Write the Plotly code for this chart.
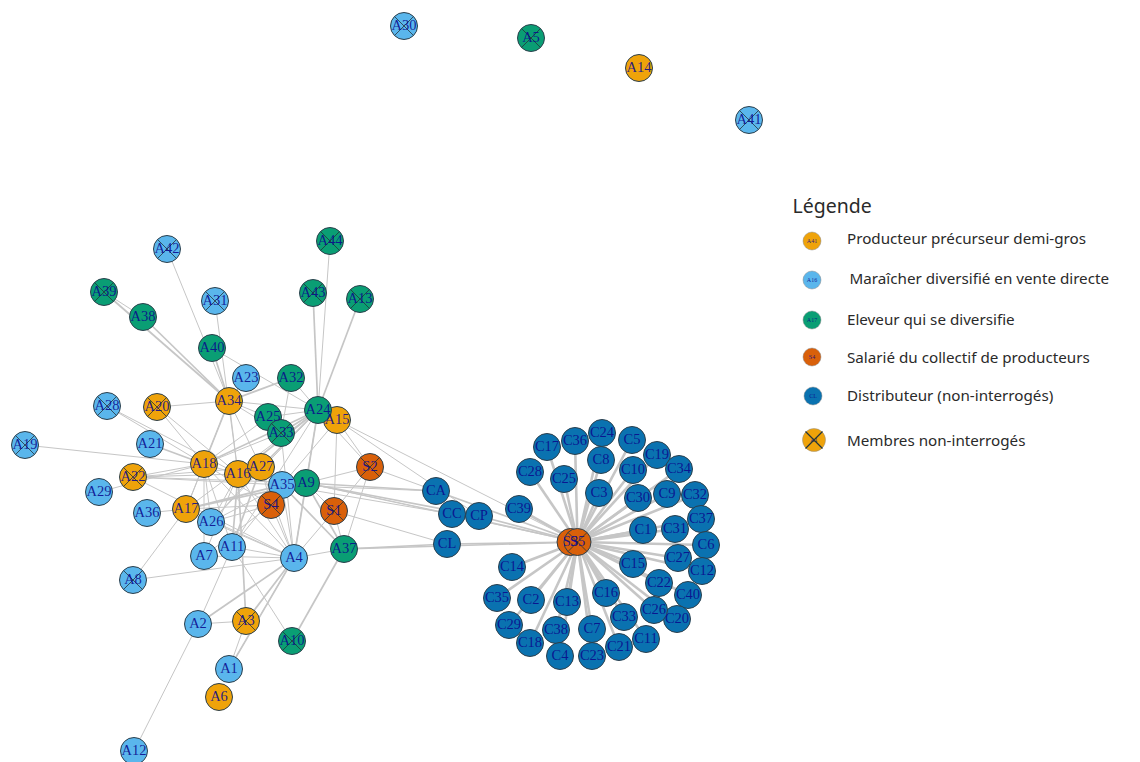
import plotly.graph_objects as go

# ---- Nodes (pixel-like layout coordinates), in drawing order
node_names = ["A30","A5","A14","A41","A42","A39","A38","A31","A40","A44","A43","A13","A23","A32","A34","A28","A20",
              "A25","A33","A15","A24","A21","A19","A18","A22","A16","A27","S2","A9","A35","A29","S4","S1","A36","A17",
              "A7","A26","A11","A4","A37","CA","CC","CP","CL","A8","A2","A3","A10","A1","A6","A12",
              "C17","C36","C24","C5","C8","C19","C10","C34","C28","C25","C3","C30","C9","C32","C39","C37","C1","C31",
              "S3","S5","C6","C27","C15","C12","C14","C22","C40","C16","C35","C2","C13","C20","C26","C33","C29","C38","C7",
              "C11","C18","C21","C4","C23"]
node_x = [404,531,639,749,167,104,143,215,212,330,313,360,246,291,229,107,157,
          268,281,337,318,150,25,204,133,238,261,370,306,282,99,271,334,147,186,
          204,211,232,294,344,436,452,479,447,133,198,246,292,229,219,134,
          547,575,602,632,601,657,633,679,530,564,599,638,667,695,519,701,643,675,
          570.5,577.5,706,678,633,702,512,659,688,606,497,531,567,677,654,624,509,556,592,
          646,530,619,560,592]
node_y = [26,38,68,120,249,292,317,301,348,241,293,299,378,378,401,406,407,
          417,433,420,410,444,445,464,477,474,467,467,483,485,492,505,511,513,509,
          556,522,547,558,549,491,514,516,544,580,624,621,641,669,697,751,
          447,441,433,440,460,455,470,469,472,479,493,498,494,495,509,519,530,529,
          542,542,545,558,564,571,567,583,595,593,598,600,602,619,610,617,625,630,629,
          639,643,647,656,656]
node_group = ["M","E","P","M","M","E","E","M","E","E","E","E","M","E","P","M","P",
              "E","E","P","E","M","M","P","P","P","P","S","E","M","M","S","S","M","P",
              "M","M","M","M","E","D","D","D","D","M","M","P","E","M","P","M"] + \
             ["D"]*18 + ["S","S"] + ["D"]*22
crossed = ["A30","A5","A41","A42","A39","A31","A44","A43","A13","A28","A20","A33","A22","A19",
           "S2","S4","S1","A3","A10","A8","S5"]

# ---- Edges: (from, to)
thin_edges = [("A42","A34"),("A39","A38"),("A31","A16"),("A40","A24"),("A44","A24"),("A23","A34"),
    ("A34","A20"),("A34","A25"),("A34","A33"),("A34","A24"),("A34","A16"),("A34","A17"),("A34","A27"),
    ("A24","A26"),("A24","A17"),("A24","A11"),("A24","A25"),("A32","A33"),("A32","A24"),
    ("A15","S2"),("A15","S1"),("A15","A35"),("A15","CP"),("A15","A24"),("A15","S5"),("A28","A18"),("A28","A16"),
    ("A20","A18"),("A20","A16"),("A19","A18"),("A22","A18"),("A22","A16"),("A22","A27"),("A22","A9"),
    ("A22","A35"),("A22","A4"),("A29","A18"),("A36","A17"),("A17","A18"),("A17","A4"),("A17","S4"),
    ("A18","A11"),("A18","A26"),("A18","A7"),("A18","A4"),("A18","A16"),("A18","A33"),("A18","A25"),("A18","S4"),
    ("A16","A26"),("A16","A7"),("A16","A4"),("A27","A26"),("A27","A4"),("A27","S4"),("A9","A4"),("A9","S2"),
    ("A9","S1"),("A35","A4"),("A35","A11"),("A35","A26"),("S4","A4"),("S4","A26"),("S4","A7"),("S2","CA"),
    ("S2","S1"),("S2","A37"),("S1","CL"),("S1","A4"),("S1","A37"),("A37","A4"),("A11","A4"),("A7","A4"),
    ("A26","A4"),("A8","A4"),("A8","A17"),("A2","A12"),("A2","A11"),("A2","A3"),("A11","A10"),("A3","A1"),
    ("A4","A1"),("A9","A24"),("A33","A4"),("A24","S2"),("A9","CC"),("A35","CC"),("A35","CA"),("A9","S5")]
thick_edges = [("A39","A34"),("A38","A34"),("A40","A34"),("A43","A24"),("A13","A24"),("A32","A34"),("A24","A18"),
    ("A24","A16"),("A24","A27"),("A24","A4"),("A24","A33"),("A21","A18"),("A17","A35"),("A17","A9"),
    ("A16","A11"),("A27","A11"),("A34","A18"),("A9","CA"),("A9","CP"),("A9","A37"),
    ("A35","A37"),("A37","CL"),("A37","S5"),("A37","A10"),("A4","A2"),
    ("A4","A3"),("A4","A1"),("A3","A16"),("CA","S5"),("CC","S5"),("CP","S5"),("CL","S5")]
hub_nodes = [n for n in node_names if n.startswith("C") and n not in ("CA","CC","CP","CL")]

# ---- Legend
legend_title = "Légende"
legend_labels = ["Producteur précurseur demi-gros","Maraîcher diversifié en vente directe","Eleveur qui se diversifie",
                 "Salarié du collectif de producteurs","Distributeur (non-interrogés)","Membres non-interrogés"]
legend_groups = ["P","M","E","S","D","P"]
legend_marks = ["A41","A16","A17","S4","CL","A1"]
legend_mark_x = [812,812,812,812,813,814]
legend_mark_y = [241,280,320,357,396,440]
legend_text_x = [847,849.5,847,847,847,847]
legend_text_y = [240,280,321,359,397,442]

colors = {"P":"#EFA30A","M":"#5AB6EC","E":"#0A9E74","S":"#D9600A","D":"#0A72B0"}
edge_color = "#C6C6C6"
label_color = "rgba(10,10,140,0.88)"
border = "#2C3F4C"

pos = dict(zip(node_names, zip(node_x, node_y)))

def edge_trace(pairs, width):
    xs, ys = [], []
    for a, b in pairs:
        xs += [pos[a][0], pos[b][0], None]
        ys += [pos[a][1], pos[b][1], None]
    return go.Scatter(x=xs, y=ys, mode="lines", line=dict(color=edge_color, width=width), hoverinfo="skip", showlegend=False)

fig = go.Figure()
fig.add_trace(edge_trace(thin_edges, 1))
fig.add_trace(edge_trace(thick_edges, 1.7))
fig.add_trace(edge_trace([(c, "S5") for c in hub_nodes] + [("S3", "S5")], 2.6))

fig.add_trace(go.Scatter(x=node_x, y=node_y, mode="markers", text=node_names, hoverinfo="text", showlegend=False,
    marker=dict(size=27, color=[colors[g] for g in node_group], line=dict(color=border, width=1), opacity=1)))
fig.add_trace(go.Scatter(x=[pos[n][0] for n in crossed], y=[pos[n][1] for n in crossed], mode="markers",
    hoverinfo="skip", showlegend=False,
    marker=dict(size=19, symbol="x-thin", color=border, line=dict(color="#24343A", width=0.8))))
fig.add_trace(go.Scatter(x=node_x, y=node_y, mode="text", text=node_names, hoverinfo="skip", showlegend=False,
    textposition="middle center", textfont=dict(family="Liberation Serif", size=14.5, color=label_color)))

# legend drawn at its place in the picture
fig.add_trace(go.Scatter(x=legend_mark_x, y=legend_mark_y, mode="markers+text", text=legend_marks, hoverinfo="skip", showlegend=False,
    textposition="middle center", textfont=dict(family="Liberation Serif", size=6, color=label_color),
    marker=dict(size=[18,18,18,18,18,23], opacity=1, color=[colors[g] for g in legend_groups], line=dict(color="#8a8a8a", width=0.5))))
fig.add_trace(go.Scatter(x=[legend_mark_x[-1]], y=[legend_mark_y[-1]], mode="markers", hoverinfo="skip", showlegend=False,
    marker=dict(size=17, symbol="x-thin", color=border, line=dict(color="#24343A", width=1.2))))
fig.add_trace(go.Scatter(x=legend_text_x, y=legend_text_y, mode="text", text=legend_labels, hoverinfo="skip", showlegend=False,
    textposition="middle right", textfont=dict(family="Noto Sans", size=15.2, color="#2A2A2A")))
fig.add_trace(go.Scatter(x=[792.5], y=[208], mode="text", text=[legend_title], hoverinfo="skip", showlegend=False,
    textposition="middle right", textfont=dict(family="Noto Sans", size=19.5, color="#2A2A2A")))

fig.update_layout(width=1140, height=762, margin=dict(l=0, r=0, t=0, b=0), paper_bgcolor="white", plot_bgcolor="white",
    xaxis=dict(range=[0,1140], visible=False, fixedrange=True),
    yaxis=dict(range=[762,0], visible=False, fixedrange=True))
fig.write_html("out.html", config={"displayModeBar": False},
               post_script="document.body.style.margin='0';document.body.style.overflow='hidden';")
